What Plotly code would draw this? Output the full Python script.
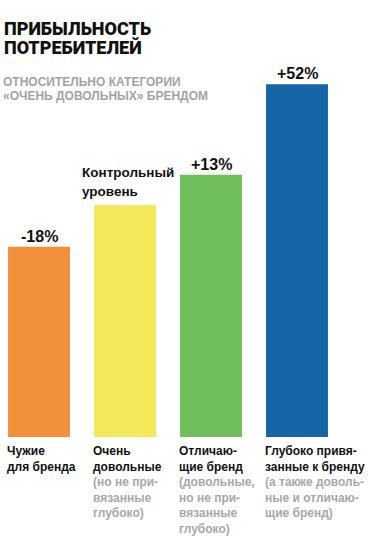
import plotly.graph_objects as go

categories = ["Чужие для бренда", "Очень довольные", "Отличающие бренд", "Глубоко привязанные"]
values = [82, 100, 113, 152]
value_labels = ["-18%", None, "+13%", "+52%"]
base_label = ["Контрольный", "уровень"]
colors = ["#F2903A", "#F4E95A", "#71BF5C", "#1565A7"]
label_main = [["Чужие", "для бренда"], ["Очень", "довольные"], ["Отличаю-", "щие бренд"], ["Глубоко привя-", "занные к бренду"]]
label_note = [[], ["(но не при-", "вязанные", "глубоко)"], ["(довольные,", "но не при-", "вязанные", "глубоко)"], ["(а также доволь-", "ные и отличаю-", "щие бренд)"]]
title_lines = ["ПРИБЫЛЬНОСТЬ", "ПОТРЕБИТЕЛЕЙ"]
subtitle_lines = ["ОТНОСИТЕЛЬНО КАТЕГОРИИ", "«ОЧЕНЬ ДОВОЛЬНЫХ» БРЕНДОМ"]

W, H = 377, 539
MT, MB = 66, 102
PH = H - MT - MB
BOTTOM = H - MB
FONT = "Liberation Sans, Arial, sans-serif"
TFONT = "Roboto, Liberation Sans, Arial, sans-serif"
BW = 0.72

def py(px):
    return (BOTTOM - px) / PH

xs = list(range(len(categories)))
fig = go.Figure(go.Bar(x=xs, y=values, marker_color=colors, width=BW,
                       marker_line_width=0, hoverinfo="skip"))

ann = []
for i, t in enumerate(title_lines):
    ann.append(dict(text=t, x=2 / W, y=py(16 + 19 * i), xref="paper", yref="paper",
                    xanchor="left", yanchor="top", showarrow=False,
                    font=dict(family=TFONT, size=18, color="#111111", weight=900)))
for i, t in enumerate(subtitle_lines):
    ann.append(dict(text="<b>" + t + "</b>", x=1 / W, y=py(73 + 13.5 * i), xref="paper", yref="paper",
                    xanchor="left", yanchor="top", showarrow=False,
                    font=dict(family=FONT, size=12, color="#A3A3A3")))
for i, v in enumerate(values):
    if value_labels[i]:
        ann.append(dict(text="<b>" + value_labels[i] + "</b>", x=xs[i], y=v, xref="x", yref="y",
                        xanchor="center", yanchor="bottom", showarrow=False, yshift=0,
                        font=dict(family=FONT, size=16, color="#111111")))
    else:
        for j, t in enumerate(base_label):
            ann.append(dict(text="<b>" + t + "</b>", x=xs[i] - BW / 2, y=v, xref="x", yref="y",
                            xanchor="left", yanchor="bottom", showarrow=False,
                            xshift=-14, yshift=4 + 19 * (len(base_label) - 1 - j),
                            font=dict(family=FONT, size=13.5, color="#111111")))
    lines = ["<b>" + t + "</b>" for t in label_main[i]] + \
            ['<span style="color:#A8A8A8"><b>' + t + "</b></span>" for t in label_note[i]]
    ann.append(dict(text="<br>".join(lines), x=xs[i] - BW / 2, y=0, xref="x", yref="paper",
                    xanchor="left", yanchor="top", align="left", showarrow=False,
                    xshift=-3, yshift=-5,
                    font=dict(family=FONT, size=12, color="#111111")))

x0 = -39 / 86
fig.update_layout(
    width=W, height=H, margin=dict(l=0, r=0, t=MT, b=MB),
    paper_bgcolor="white", plot_bgcolor="white",
    xaxis=dict(range=[x0, x0 + W / 86], visible=False, fixedrange=True),
    yaxis=dict(range=[0, PH / 2.32], visible=False, fixedrange=True),
    showlegend=False, annotations=ann,
)
fig.write_html("out.html")
